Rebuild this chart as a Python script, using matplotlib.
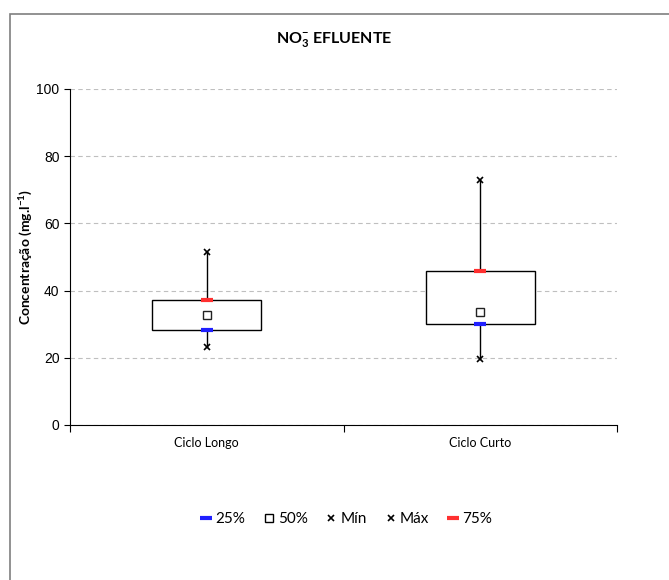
import matplotlib.pyplot as plt
import matplotlib.patches as mpatches
from matplotlib.lines import Line2D

plt.rcParams['mathtext.fontset'] = 'custom'
plt.rcParams['mathtext.rm'] = 'Lato'
plt.rcParams['mathtext.bf'] = 'Lato:bold'

ciclos = ['Ciclo Longo', 'Ciclo Curto']
p25 = [28.3, 30.2]
p50 = [32.8, 33.6]
v_min = [23.3, 19.6]
v_max = [51.5, 73.0]
p75 = [37.2, 45.9]

fig = plt.figure(figsize=(6.69, 5.80), dpi=100)
W, H = 669, 580

# moldura externa
fig.patches.append(mpatches.Rectangle((10 / W, -0.1), 1.2, 1.1 - 14 / H,
                                      transform=fig.transFigure, fill=False,
                                      edgecolor='#7f7f7f', lw=1.2))

ax = fig.add_axes([70 / W, (H - 425) / H, (617 - 70) / W, (425 - 89) / H])

xs = [0.5, 1.5]
bw = 0.4
for i, x in enumerate(xs):
    ax.plot([x, x], [v_min[i], v_max[i]], color='black', lw=1, zorder=2)
    ax.add_patch(mpatches.Rectangle((x - bw / 2, p25[i]), bw, p75[i] - p25[i],
                                    facecolor='white', edgecolor='black',
                                    lw=1, zorder=3))

ax.plot(xs, p25, ls='none', marker='_', ms=9, mew=3, color='#2020ff', zorder=4)
ax.plot(xs, p75, ls='none', marker='_', ms=9, mew=3, color='#ff3030', zorder=4)
ax.plot(xs, p50, ls='none', marker='s', ms=6, mfc='white', mec='#222222',
        mew=1, zorder=4)
ax.plot(xs, v_min, ls='none', marker='x', ms=4.5, mew=1.2, color='black', zorder=4)
ax.plot(xs, v_max, ls='none', marker='x', ms=4.5, mew=1.2, color='black', zorder=4)

ax.set_xlim(0, 2)
ax.set_ylim(0, 100)
ax.set_yticks(range(0, 101, 20))
ax.tick_params(axis='y', labelsize=10, length=4, direction='out')
for lbl in ax.get_yticklabels():
    lbl.set_fontfamily('Liberation Sans')
ax.set_xticks([0, 1, 2])
ax.set_xticklabels([])
ax.tick_params(axis='x', length=5, direction='out')
for x, c in zip(xs, ciclos):
    ax.text(x, -3.5, c, ha='center', va='top', fontsize=9, family='Lato',
            transform=ax.transData)

ax.grid(axis='y', color='#bfbfbf', ls=(0, (4, 3)), lw=0.8)
ax.set_axisbelow(True)
ax.spines['top'].set_visible(False)
ax.spines['right'].set_visible(False)

ax.set_ylabel(r'Concentração (mg.l$^{\mathbf{-1}}$)', fontsize=10,
              fontweight='bold', family='Lato', labelpad=2)

fig.text(0.5, (H - 40) / H, r'NO$_{\mathbf{3}}^{\mathbf{-}}$ EFLUENTE',
         ha='center', va='center', fontsize=11.5, fontweight='bold',
         family='Lato')

handles = [
    Line2D([], [], ls='none', marker='_', ms=8, mew=3, color='#2020ff'),
    Line2D([], [], ls='none', marker='s', ms=6, mfc='white', mec='black'),
    Line2D([], [], ls='none', marker='x', ms=4, mew=1.2, color='black'),
    Line2D([], [], ls='none', marker='x', ms=4, mew=1.2, color='black'),
    Line2D([], [], ls='none', marker='_', ms=8, mew=3, color='#ff3030'),
]
fig.legend(handles, ['25%', '50%', 'Mín', 'Máx', '75%'], loc='center',
           bbox_to_anchor=(347 / W, (H - 519) / H), ncol=5, frameon=False,
           prop={'family': 'Lato', 'size': 11}, handlelength=0.5,
           handletextpad=0.35, columnspacing=1.3)

fig.savefig('out.png', dpi=100)
